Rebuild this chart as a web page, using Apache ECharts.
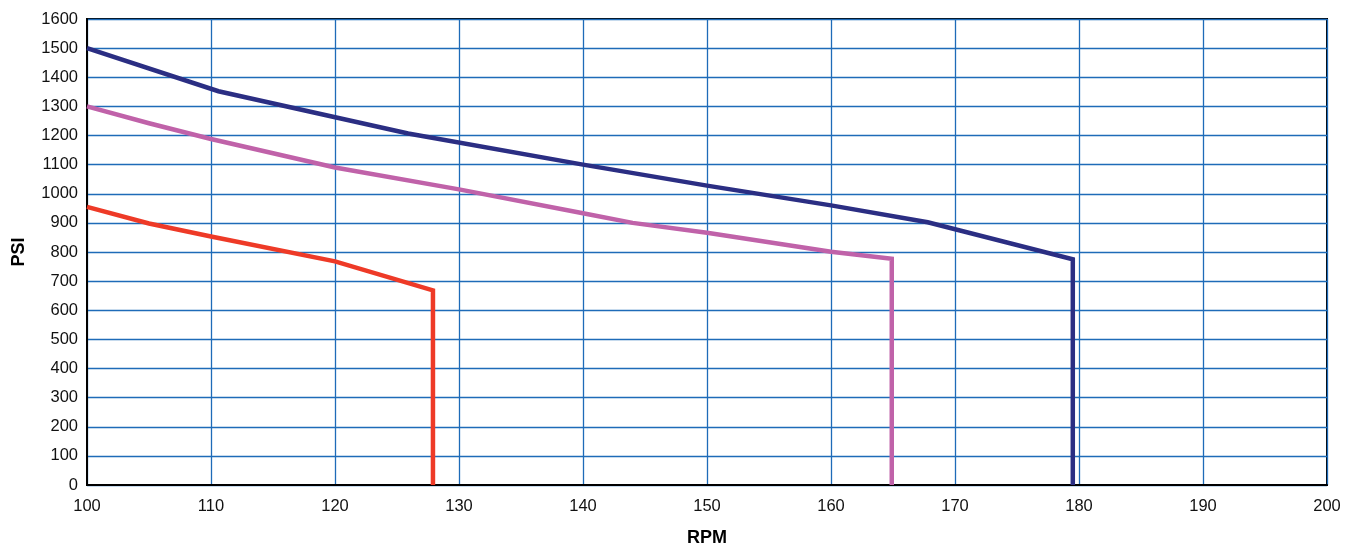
<!DOCTYPE html>
<html><head><meta charset="utf-8">
<script src="https://cdn.jsdelivr.net/npm/echarts@6/dist/echarts.min.js"></script>
<style>html,body{margin:0;padding:0;background:#fff}#c{width:1352px;height:548px}</style>
</head><body><div id="c"></div>
<script>
const xTicks = [100,110,120,130,140,150,160,170,180,190,200];
const yTicks = [0,100,200,300,400,500,600,700,800,900,1000,1100,1200,1300,1400,1500,1600];
const navyRPM = [100,110.6,125.9,140,150,160,167.8,179.5,179.5];
const navyPSI = [1500,1352,1207,1100,1028,960,902,775,0];
const pinkRPM = [100,105,110,120,130,140,144,150,160,164.9,164.9];
const pinkPSI = [1300,1242,1188,1090,1015,933,900,866,801,777,0];
const redRPM = [100,105,110,120,127.9,127.9];
const redPSI = [955,898,853,768,668,0];
const zip = (a,b)=>a.map((v,i)=>[v,b[i]]);
const font = 'Liberation Sans, Arial, Helvetica, sans-serif';
const chart = echarts.init(document.getElementById('c'));
const mk = (name,color,xs,ys)=>({name,type:'line',data:zip(xs,ys),symbol:'none',
  lineStyle:{color,width:4.5,join:'miter'},animation:false});
chart.setOption({
  animation:false,
  grid:{left:87,right:25,top:19,bottom:63,containLabel:false,outerBoundsMode:'none',show:true,borderColor:'#000',borderWidth:2,backgroundColor:'transparent'},
  xAxis:{type:'value',min:xTicks[0],max:xTicks[xTicks.length-1],interval:10,name:'RPM',nameLocation:'middle',nameGap:44,
    nameTextStyle:{fontFamily:font,fontWeight:'bold',fontSize:18,color:'#000'},
    axisLine:{show:true,lineStyle:{color:'#000',width:2}},axisTick:{show:false},
    axisLabel:{fontFamily:font,fontSize:16.5,color:'#111',margin:13,formatter:v=>String(v)},
    splitLine:{show:true,lineStyle:{color:'#1E6BB8',width:1.3}}},
  yAxis:{type:'value',min:yTicks[0],max:yTicks[yTicks.length-1],interval:100,name:'PSI',nameLocation:'middle',nameGap:59,nameRotate:90,
    nameTextStyle:{fontFamily:font,fontWeight:'bold',fontSize:18,color:'#000'},
    axisLine:{show:true,lineStyle:{color:'#000',width:2}},axisTick:{show:false},
    axisLabel:{fontFamily:font,fontSize:16.5,color:'#111',margin:9,formatter:v=>String(v)},
    splitLine:{show:true,lineStyle:{color:'#1E6BB8',width:1.3}}},
  series:[
    mk('navy','#2B2E83',navyRPM,navyPSI),
    mk('pink','#C062A9',pinkRPM,pinkPSI),
    mk('red','#EE3A27',redRPM,redPSI)
  ]
});
</script></body></html>
